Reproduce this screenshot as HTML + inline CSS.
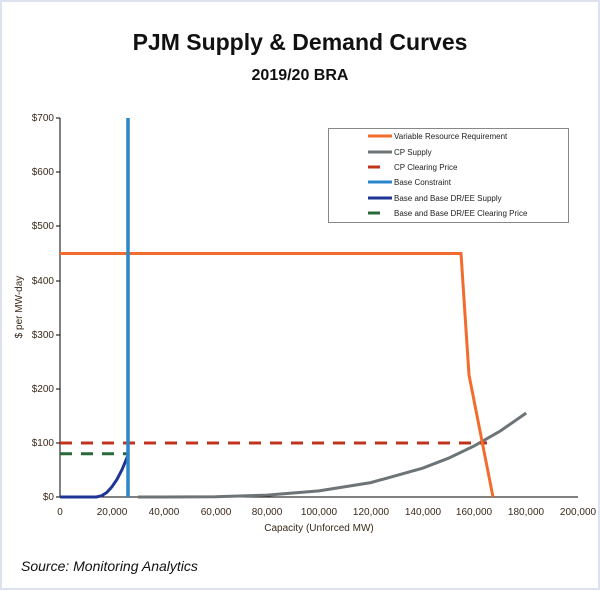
<!DOCTYPE html>
<html><head><style>
body{margin:0;background:#fff}
.w{position:relative;width:596px;height:586px;border:2px solid #dde3ee;background:#fff;font-family:"Liberation Sans",sans-serif}
</style></head><body><div class="w">
<svg width="596" height="586" style="position:absolute;left:0;top:0" font-family="Liberation Sans, sans-serif">
<g transform="translate(-2,-2)">
<text x="300" y="50" text-anchor="middle" font-size="23" font-weight="bold" fill="#111">PJM Supply &amp; Demand Curves</text>
<text x="300" y="80" text-anchor="middle" font-size="16" font-weight="bold" fill="#111">2019/20 BRA</text>
<g font-size="10" fill="#3a2a1a" text-anchor="end">
<text x="54" y="500">$0</text><text x="54" y="446">$100</text><text x="54" y="392">$200</text><text x="54" y="338">$300</text><text x="54" y="284">$400</text><text x="54" y="229">$500</text><text x="54" y="175">$600</text><text x="54" y="121">$700</text>
</g>
<g font-size="10" fill="#3a2a1a" text-anchor="middle">
<text x="60" y="515">0</text><text x="112" y="515">20,000</text><text x="164" y="515">40,000</text><text x="216" y="515">60,000</text><text x="267" y="515">80,000</text><text x="319" y="515">100,000</text><text x="371" y="515">120,000</text><text x="423" y="515">140,000</text><text x="474" y="515">160,000</text><text x="526" y="515">180,000</text><text x="578" y="515">200,000</text>
<text x="319" y="531">Capacity (Unforced MW)</text>
</g>
<text transform="translate(22,307) rotate(-90)" font-size="10" fill="#3a2a1a" text-anchor="middle">$ per MW-day</text>
<g stroke="#000" stroke-width="1">
<line x1="60" y1="118" x2="60" y2="497"/><line x1="60" y1="497" x2="578" y2="497"/>
<line x1="56" y1="497" x2="60" y2="497"/><line x1="56" y1="443" x2="60" y2="443"/><line x1="56" y1="389" x2="60" y2="389"/><line x1="56" y1="335" x2="60" y2="335"/><line x1="56" y1="281" x2="60" y2="281"/><line x1="56" y1="226" x2="60" y2="226"/><line x1="56" y1="172" x2="60" y2="172"/><line x1="56" y1="118" x2="60" y2="118"/>
</g>
<polyline fill="none" stroke="#6d7478" stroke-width="3" points="138,497 163.6,497 215.4,496.7 267.2,495.1 319,490.9 370.8,482.6 422.6,468.2 448.5,458.2 474.4,445.8 500.3,431 526.2,413"/>
<line x1="60" y1="443" x2="487" y2="443" stroke="#c0341d" stroke-width="3" stroke-dasharray="12,9"/>
<line x1="60" y1="453.7" x2="128" y2="453.7" stroke="#2a6a3a" stroke-width="3" stroke-dasharray="12,9"/>
<polyline fill="none" stroke="#f26c2d" stroke-width="3" points="60,253.5 461,253.5 469,375 493,497"/>
<polyline fill="none" stroke="#1f3596" stroke-width="3" points="60,497 96.3,497 101.4,495.9 106.6,492.6 111.8,487 117,479.3 122.2,469.3 128.6,453.7"/>
<line x1="128" y1="118" x2="128" y2="497" stroke="#2b86cc" stroke-width="3.5"/>
<rect x="328.5" y="128.5" width="240" height="94" fill="#fff" stroke="#888"/>
<g stroke-width="3">
<line x1="368" y1="136" x2="392" y2="136" stroke="#f26c2d"/>
<line x1="368" y1="152" x2="392" y2="152" stroke="#6d7478"/>
<line x1="368" y1="167" x2="380" y2="167" stroke="#c0341d"/>
<line x1="368" y1="182" x2="392" y2="182" stroke="#2b86cc"/>
<line x1="368" y1="198" x2="392" y2="198" stroke="#1f3596"/>
<line x1="368" y1="213" x2="380" y2="213" stroke="#2a6a3a"/>
</g>
<g font-size="8" fill="#222">
<text x="394" y="139">Variable Resource Requirement</text>
<text x="394" y="155">CP Supply</text>
<text x="394" y="170">CP Clearing Price</text>
<text x="394" y="185">Base Constraint</text>
<text x="394" y="201">Base and Base DR/EE Supply</text>
<text x="394" y="216">Base and Base DR/EE Clearing Price</text>
</g>
<text x="21" y="571" font-size="14" font-style="italic" fill="#111">Source: Monitoring Analytics</text>
</g>
</svg></div></body></html>
